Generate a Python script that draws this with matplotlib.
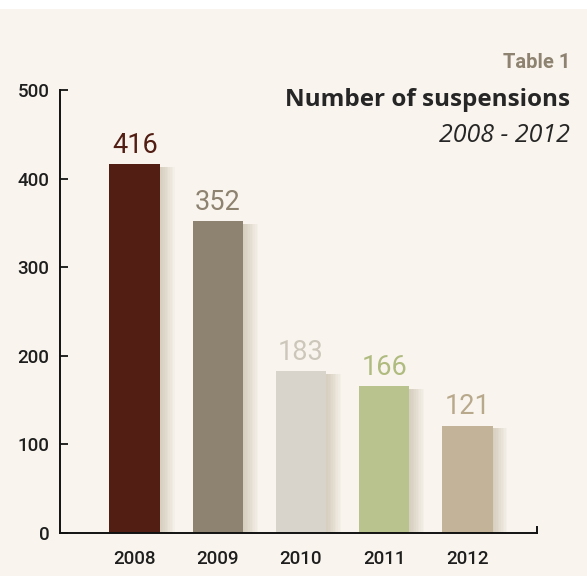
import matplotlib.pyplot as plt
from matplotlib.patches import Rectangle

years = ["2008", "2009", "2010", "2011", "2012"]
suspensions = [416, 352, 183, 166, 121]
bar_colors = ["#521e14", "#8e8270", "#d8d4cc", "#b9c38d", "#c2b399"]
label_colors = ["#521e14", "#8e8270", "#cdc7bb", "#b0bb80", "#b8a98c"]
y_ticks = [0, 100, 200, 300, 400, 500]

num_font = "Roboto"

bg = "#f9f5ee"
fig = plt.figure(figsize=(5.87, 5.76), dpi=100, facecolor=bg)
# white strip along the top edge
fig.patches.append(Rectangle((0, 0.985), 1, 0.015, transform=fig.transFigure,
                             facecolor="white", edgecolor="none"))

ax = fig.add_axes([60 / 587, 43 / 576, 477 / 587, 443 / 576])
ax.set_facecolor("none")

x = list(range(len(years)))
width = 0.61

# soft shadow to the right of each bar
for i, v in enumerate(suspensions):
    for k in range(9):
        ax.add_patch(Rectangle((i - width / 2 + 0.02 + k * 0.02, 0), width, v - 3,
                               facecolor="#a89a7c", edgecolor="none",
                               alpha=0.05, zorder=1))

ax.bar(x, suspensions, width=width, color=bar_colors, zorder=2)

for i, v in enumerate(suspensions):
    ax.text(i, v + 6, str(v), ha="center", va="bottom", fontsize=19.5,
            color=label_colors[i], family=num_font, zorder=3)

ax.set_xlim(-0.9, 4.84)
ax.set_ylim(0, 500)
ax.set_yticks(y_ticks)
ax.set_xticks(x)
ax.set_xticklabels(years)
for lbl in ax.get_xticklabels() + ax.get_yticklabels():
    lbl.set_family(num_font)
    lbl.set_fontweight("medium")
    lbl.set_fontsize(13.5)
    lbl.set_color("#1e1e1e")
ax.tick_params(axis="y", direction="in", length=6, width=1.2, pad=7.5)
ax.tick_params(axis="x", length=0, pad=12)

for s in ["top", "right"]:
    ax.spines[s].set_visible(False)
for s in ["left", "bottom"]:
    ax.spines[s].set_linewidth(1.4)
    ax.spines[s].set_color("#111111")

# small end tick on the x axis
ax.plot([4.84, 4.84], [0, 7], color="#111111", lw=1.4, clip_on=False)

fig.text(570 / 587, 1 - 63 / 576, "Table 1", ha="right", va="center",
         fontsize=14.5, fontweight="bold", color="#8e8270", family=num_font)
fig.text(570 / 587, 1 - 100 / 576, "Number of suspensions", ha="right", va="center",
         fontsize=17.5, fontweight="bold", color="#262626", family="Open Sans")
fig.text(570 / 587, 1 - 135 / 576, "2008 - 2012", ha="right", va="center",
         fontsize=18, style="italic", color="#262626", family="Open Sans")

fig.savefig("out.png", dpi=100, facecolor=bg)
